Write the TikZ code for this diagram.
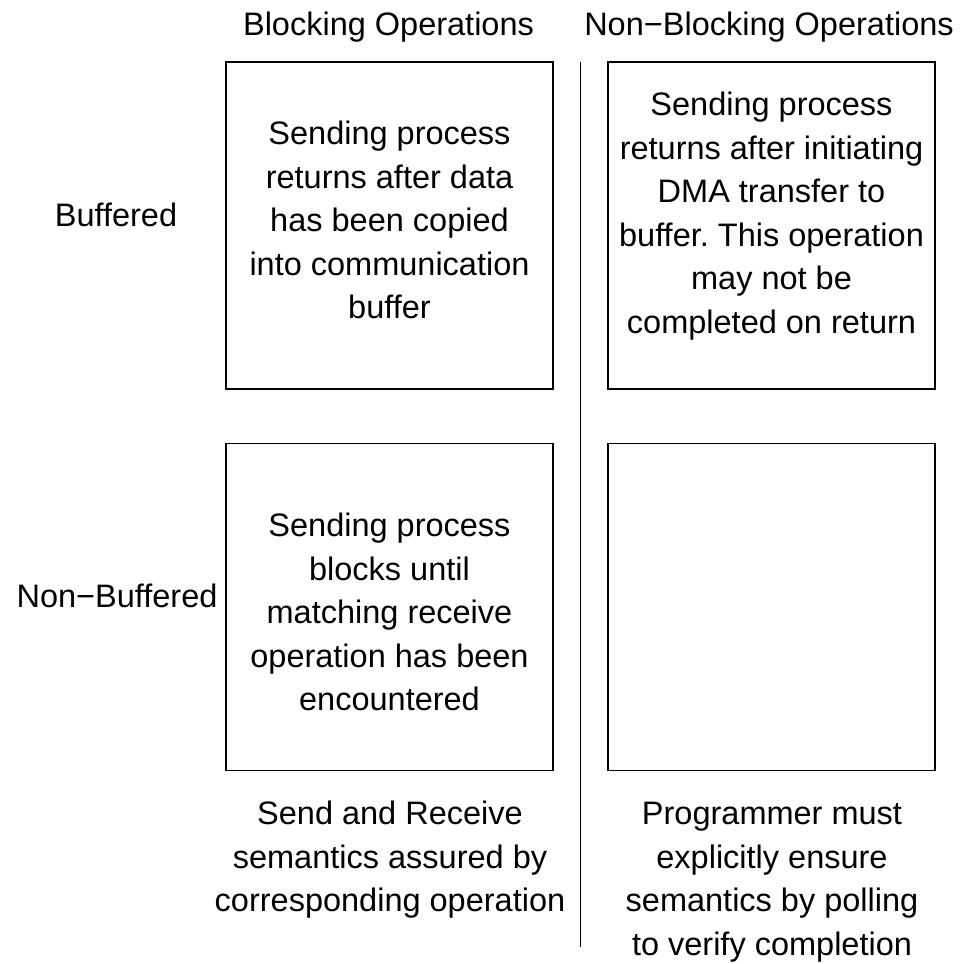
\documentclass[tikz,border=0pt]{standalone}
\usepackage{fontspec}
\setmainfont[Ligatures=NoCommon]{Liberation Sans}
\usetikzlibrary{positioning}
\frenchspacing

\begin{document}
\begin{tikzpicture}[x=1pt,y=-1pt,
  every node/.style={font=\fontsize{32.5}{43.5}\selectfont,inner sep=0pt},
  cell/.style={draw,line width=1.3pt,minimum width=327pt,minimum height=327pt},
  note/.style={align=center}]
\useasboundingbox (0,0) rectangle (960,964);

% Column headers
\node[anchor=base] (hblock) at (388.5,35) {Blocking Operations};
\node[anchor=base] (hnonblock) at (769,35) {Non−Blocking Operations};

% Row labels
\node[anchor=base] (rbuf) at (116,226) {Buffered};
\node[anchor=base] (rnonbuf) at (117,607) {Non−Buffered};

% Boxes
\node[cell] (bufblock) at (389.5,225.5) {};
\node[cell] (bufnonblock) at (771.5,225.5) {};
\node[cell] (nbufblock) at (389.5,607) {};
\node[cell] (nbufnonblock) at (771.5,607) {};

% Box texts
\node[note] (t1) at (389.5,220) {Sending process\\returns after data\\has been copied\\into communication\\buffer};
\node[note] (t2) at (771.5,216) {Sending process\\returns after initiating\\DMA transfer to\\buffer. This operation\\may not be\\completed on return};
\node[note] (t3) at (389.5,612) {Sending process\\blocks until\\matching receive\\operation has been\\encountered};

% Bottom notes
\node[note] (sblock) at (390,860) {Send and Receive\\semantics assured by\\corresponding operation};
\node[note] (snonblock) at (772,882) {Programmer must\\explicitly ensure\\semantics by polling\\to verify completion};

% Divider
\coordinate (divtop) at (580,62);
\coordinate (divbot) at (580,947);
\draw[line width=1pt] (divtop) -- (divbot);
\end{tikzpicture}
\end{document}
